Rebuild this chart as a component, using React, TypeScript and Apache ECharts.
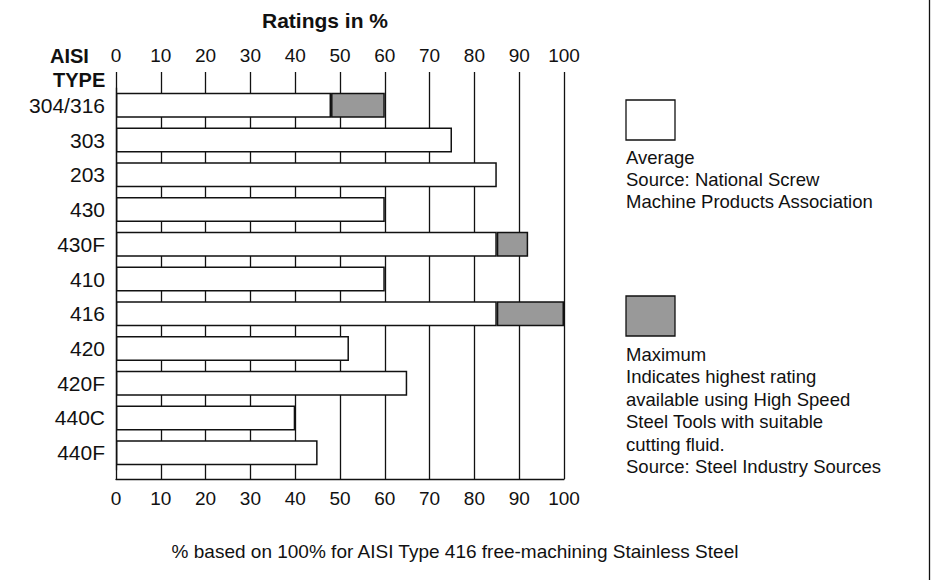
import React, { useEffect, useRef } from "react";
import * as echarts from "echarts";

const categories = ["304/316", "303", "203", "430", "430F", "410", "416", "420", "420F", "440C", "440F"];
const averageRatings = [48, 75, 85, 60, 85, 60, 85, 52, 65, 40, 45];
const maximumRatings: (number | null)[] = [60, null, null, null, 92, null, 100, null, null, null, null];
const tickMin = 0;
const tickMax = 100;
const tickInterval = 10;

const FONT = "Liberation Sans, Arial, sans-serif";

export default function App() {
  const ref = useRef<HTMLDivElement>(null);
  useEffect(() => {
    if (!ref.current) return;
    const chart = echarts.init(ref.current, null, { renderer: "svg" });
    const extra = maximumRatings.map((m, i) => (m == null ? null : m - averageRatings[i]));
    const axisLabel = { fontFamily: FONT, fontSize: 19, color: "#111" };
    chart.setOption({
      animation: false,
      backgroundColor: "#fff",
      grid: { left: 116, right: 372, top: 88, bottom: 110, containLabel: false },
      xAxis: [
        {
          type: "value",
          position: "top",
          min: tickMin,
          max: tickMax,
          interval: tickInterval,
          axisLine: { show: false },
          axisTick: { show: true, length: 16, lineStyle: { color: "#111", width: 1.3 } },
          axisLabel: { ...axisLabel, margin: 23 },
          splitLine: { show: false },
        },
        {
          type: "value",
          position: "bottom",
          offset: 9,
          min: tickMin,
          max: tickMax,
          interval: tickInterval,
          axisLine: { show: true, lineStyle: { color: "#111", width: 1.3 } },
          axisTick: { show: true, inside: true, length: 9, lineStyle: { color: "#111", width: 1.3 } },
          axisLabel: { ...axisLabel, margin: 10 },
          splitLine: { show: true, lineStyle: { color: "#111", width: 1.3 } },
        },
      ],
      yAxis: {
        type: "category",
        data: categories,
        inverse: true,
        axisLine: { show: true, lineStyle: { color: "#111", width: 1.3 } },
        axisTick: { show: false },
        axisLabel: { ...axisLabel, fontSize: 21, margin: 11 },
        splitLine: { show: false },
      },
      series: [
        {
          type: "bar",
          stack: "r",
          xAxisIndex: 1,
          barWidth: 25,
          data: averageRatings,
          itemStyle: { color: "#fff", borderColor: "#111", borderWidth: 1.5 },
        },
        {
          type: "bar",
          stack: "r",
          xAxisIndex: 1,
          barWidth: 25,
          data: extra,
          itemStyle: { color: "#999", borderColor: "#111", borderWidth: 1.5 },
        },
      ],
      graphic: [
        { type: "line", shape: { x1: 929.5, y1: 0, x2: 929.5, y2: 580 }, style: { stroke: "#111", lineWidth: 1.3 } },
        {
          type: "text", x: 325, y: 20,
          style: { text: "Ratings in %", font: `bold 21px ${FONT}`, fill: "#111", textAlign: "center", textVerticalAlign: "middle" },
        },
        {
          type: "text", x: 50, y: 56,
          style: { text: "AISI", font: `bold 20px ${FONT}`, fill: "#111", textAlign: "left", textVerticalAlign: "middle" },
        },
        {
          type: "text", x: 53, y: 80,
          style: { text: "TYPE", font: `bold 20px ${FONT}`, fill: "#111", textAlign: "left", textVerticalAlign: "middle" },
        },
        { type: "rect", shape: { x: 626, y: 100, width: 49, height: 40 }, style: { fill: "#fff", stroke: "#111", lineWidth: 1.3 } },
        {
          type: "text", x: 626, y: 146,
          style: {
            text: "Average\nSource: National Screw\nMachine Products Association",
            font: `18.5px ${FONT}`, lineHeight: 22, fill: "#111", textAlign: "left", textVerticalAlign: "top",
          },
        },
        { type: "rect", shape: { x: 626, y: 296, width: 49, height: 40 }, style: { fill: "#999", stroke: "#111", lineWidth: 1.3 } },
        {
          type: "text", x: 626, y: 343,
          style: {
            text: "Maximum\nIndicates highest rating\navailable using High Speed\nSteel Tools with suitable\ncutting fluid.\nSource: Steel Industry Sources",
            font: `18.5px ${FONT}`, lineHeight: 22.5, fill: "#111", textAlign: "left", textVerticalAlign: "top",
          },
        },
        {
          type: "text", x: 455, y: 551,
          style: {
            text: "% based on 100% for AISI Type 416 free-machining Stainless Steel",
            font: `19px ${FONT}`, fill: "#111", textAlign: "center", textVerticalAlign: "middle",
          },
        },
      ],
    });
    return () => chart.dispose();
  }, []);
  return <div ref={ref} style={{ position: "fixed", left: 0, top: 0, width: 936, height: 580 }} />;
}
